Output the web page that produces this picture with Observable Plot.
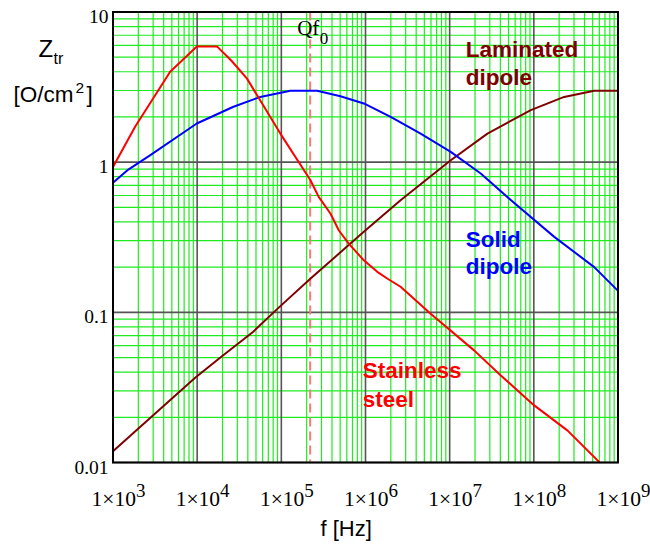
<!DOCTYPE html>
<html>
<head>
<meta charset="utf-8">
<script src="https://cdn.jsdelivr.net/npm/d3@7"></script>
<script src="https://cdn.jsdelivr.net/npm/@observablehq/plot@0.6"></script>
<style>
  html, body { margin: 0; padding: 0; background: #fff; }
  #chart svg { display: block; }
</style>
</head>
<body>
<div id="chart"></div>
<script>
// ---- Data ----
const steelFreq = [1e3, 1830, 4775, 9900, 17200, 25900, 39100, 97300, 2.21e5, 2.78e5, 3.83e5, 4.81e5, 6.32e5, 9.55e5, 1.38e6, 1.81e6, 2.61e6, 5.94e6, 1.95e7, 4.05e7, 1.01e8, 2.52e8, 6.28e8];
const steelZ    = [0.93, 1.72, 4.0, 5.9, 5.9, 4.7, 3.6, 1.55, 0.76, 0.587, 0.455, 0.352, 0.287, 0.222, 0.186, 0.168, 0.148, 0.098, 0.0558, 0.038, 0.024, 0.0163, 0.0098];

const solidFreq = [1e3, 1520, 2750, 9900, 27000, 56200, 1.28e5, 2.66e5, 5.04e5, 9.55e5, 1.99e6, 4.52e6, 1.03e7, 2.34e7, 5.32e7, 1.75e8, 5.22e8, 1e9];
const solidZ    = [0.73, 0.893, 1.11, 1.81, 2.34, 2.72, 2.99, 2.99, 2.75, 2.46, 2.0, 1.55, 1.17, 0.84, 0.56, 0.318, 0.2, 0.139];

const lamFreq = [1e3, 1410, 9460, 20200, 46000, 97300, 2.21e5, 6.62e5, 9.55e5, 2.61e6, 1.03e7, 2.81e7, 9.2e7, 2.29e8, 5.22e8, 1e9];
const lamZ    = [0.0119, 0.0141, 0.0367, 0.0516, 0.074, 0.11, 0.1675, 0.287, 0.344, 0.558, 1.03, 1.55, 2.22, 2.72, 2.99, 2.99];

const qf0 = 2.2e5;

const xTicks = [1e3, 1e4, 1e5, 1e6, 1e7, 1e8, 1e9];
const xTickLabels = ["1×10^3", "1×10^4", "1×10^5", "1×10^6", "1×10^7", "1×10^8", "1×10^9"];
const yTicks = [0.01, 0.1, 1, 10];
const yTickLabels = ["0.01", "0.1", "1", "10"];

const gridMultipliers = [2, 3, 4, 5, 6, 7, 8, 9];
const xDecades = [1e3, 1e4, 1e5, 1e6, 1e7, 1e8];
const yDecades = [0.01, 0.1, 1];

const curveLabels = [
  {f: 1.55e7, z: 5.03,   text: "Laminated", color: "#800000"},
  {f: 1.55e7, z: 3.27,   text: "dipole",    color: "#800000"},
  {f: 1.55e7, z: 0.274,  text: "Solid",     color: "#0000ff"},
  {f: 1.55e7, z: 0.181,  text: "dipole",    color: "#0000ff"},
  {f: 9.27e5, z: 0.0368, text: "Stainless", color: "#ff0000"},
  {f: 9.27e5, z: 0.0233, text: "steel",     color: "#ff0000"}
];

// ---- Derived tables ----
const toRows = (fs, zs) => fs.map((f, i) => ({f, z: zs[i]}));
const steel = toRows(steelFreq, steelZ);
const solid = toRows(solidFreq, solidZ);
const lam = toRows(lamFreq, lamZ);
const minorX = xDecades.flatMap(d => gridMultipliers.map(m => m * d));
const minorY = yDecades.flatMap(d => gridMultipliers.map(m => m * d));
const xTickRows = xTicks.map((v, i) => ({v, label: xTickLabels[i]}));
const yTickRows = yTicks.map((v, i) => ({v, label: yTickLabels[i]}));

const SERIF = "'Liberation Serif', 'Times New Roman', serif";
const SANS = "'Liberation Sans', Arial, sans-serif";
const GREEN = "#1eec1e";

const plot = Plot.plot({
  width: 650,
  height: 544,
  marginLeft: 112.5,
  marginRight: 32.5,
  marginTop: 11.5,
  marginBottom: 82,
  x: {type: "log", domain: [1e3, 1e9], label: null, axis: null},
  y: {type: "log", domain: [0.01, 10], label: null, axis: null},
  marks: [
    Plot.ruleX(minorX, {stroke: GREEN, strokeWidth: 1.2}),
    Plot.ruleY(minorY, {stroke: GREEN, strokeWidth: 1.2}),
    Plot.ruleX(xTicks, {stroke: "#555", strokeWidth: 1.6}),
    Plot.ruleY(yTicks, {stroke: "#555", strokeWidth: 1.6}),
    Plot.ruleX([qf0], {stroke: "#f47c7c", strokeWidth: 2, strokeDasharray: "9,5"}),
    Plot.line(lam, {x: "f", y: "z", stroke: "#800000", strokeWidth: 2, clip: true}),
    Plot.line(solid, {x: "f", y: "z", stroke: "#0000ff", strokeWidth: 2, clip: true}),
    Plot.line(steel, {x: "f", y: "z", stroke: "#ff0000", strokeWidth: 2, clip: true}),
    Plot.frame({stroke: "#000", strokeWidth: 2}),
    Plot.text(curveLabels, {x: "f", y: "z", text: "text", fill: "color", textAnchor: "start", lineAnchor: "bottom",
      fontSize: 22.5, fontWeight: "bold", fontFamily: SANS}),
    Plot.text([{f: qf0, z: 7.0}], {x: "f", y: "z", text: () => "Qf", textAnchor: "start", lineAnchor: "bottom",
      dx: -13, fontSize: 21, fontFamily: SERIF, fill: "#000"}),
    Plot.text([{f: qf0, z: 7.0}], {x: "f", y: "z", text: () => "0", textAnchor: "start", lineAnchor: "bottom",
      dx: 9.5, dy: 9, fontSize: 17, fontFamily: SERIF, fill: "#000"}),
    // tick labels (x: below the frame bottom, y: left of the frame)
    Plot.text(xTickRows, {x: "v", frameAnchor: "bottom", text: "label", textAnchor: "middle", lineAnchor: "bottom",
      dx: 5.5, dy: 505 - 462, fontSize: 21.5, fontFamily: SERIF, fill: "#000"}),
    Plot.text(yTickRows, {y: "v", frameAnchor: "left", text: "label", textAnchor: "end", lineAnchor: "bottom",
      dx: -4.5, dy: 11, fontSize: 19.5, fontFamily: SERIF, fill: "#000"}),
    // axis titles
    Plot.text(["f [Hz]"], {frameAnchor: "bottom-left", textAnchor: "start", lineAnchor: "bottom",
      dx: 320 - 112.5, dy: 535 - 462, fontSize: 22, fontFamily: SANS, fill: "#000"}),
    Plot.text(["Z"], {frameAnchor: "top-left", textAnchor: "start", lineAnchor: "bottom",
      dx: 38 - 112.5, dy: 56.5 - 11.5, fontSize: 24, fontFamily: SANS, fill: "#000"}),
    Plot.text(["tr"], {frameAnchor: "top-left", textAnchor: "start", lineAnchor: "bottom",
      dx: 53 - 112.5, dy: 63 - 11.5, fontSize: 16, fontFamily: SANS, fill: "#000"}),
    Plot.text(["[O/cm"], {frameAnchor: "top-left", textAnchor: "start", lineAnchor: "bottom",
      dx: 13 - 112.5, dy: 101.5 - 11.5, fontSize: 22.5, fontFamily: SANS, fill: "#000"}),
    Plot.text(["2"], {frameAnchor: "top-left", textAnchor: "start", lineAnchor: "bottom",
      dx: 75 - 112.5, dy: 92 - 11.5, fontSize: 15.5, fontFamily: SANS, fill: "#000"}),
    Plot.text(["]"], {frameAnchor: "top-left", textAnchor: "start", lineAnchor: "bottom",
      dx: 86 - 112.5, dy: 101.5 - 11.5, fontSize: 22.5, fontFamily: SANS, fill: "#000"})
  ]
});

// superscript exponents on x tick labels ("1×10^3" -> 1×10 + raised 3)
d3.select(plot).selectAll("text").each(function() {
  const t = d3.select(this);
  if (!t.select("tspan").empty()) return;
  const s = t.text();
  const parts = s.split("^");
  if (parts.length === 2) {
    t.text(parts[0]);
    t.append("tspan").attr("dy", "-9").attr("font-size", 19).text(parts[1]);
  }
});

document.getElementById("chart").appendChild(plot);
</script>
</body>
</html>
